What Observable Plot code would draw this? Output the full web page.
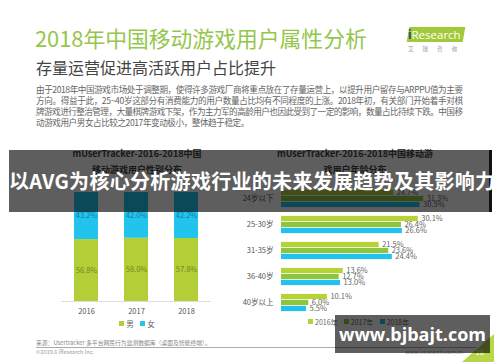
<!DOCTYPE html>
<html><head><meta charset="utf-8">
<script src="https://cdn.jsdelivr.net/npm/d3@7"></script>
<script src="https://cdn.jsdelivr.net/npm/@observablehq/plot@0.6"></script>
<style>
html,body{margin:0;padding:0;background:#fff;}
#page{position:relative;width:500px;height:362px;overflow:hidden;background:#fff;font-family:"Noto Sans CJK SC","Noto Sans",sans-serif;}
.abs{position:absolute;white-space:nowrap;line-height:1;}
.sq{display:inline-block;width:5px;height:5px;margin-right:2px;vertical-align:1px;}
.pl{display:block;white-space:nowrap;}
</style></head>
<body>
<div id="page">
  <div class="abs" style="left:35px;top:27px;font-size:21.8px;color:#95c64c;">2018年中国移动游戏用户属性分析</div>
  <div class="abs" style="left:36px;top:59px;font-size:16px;color:#444;">存量运营促进高活跃用户占比提升</div>
  <div class="abs" style="left:408px;top:27px;width:56px;height:15px;background:#a3c93a;transform:skewX(-10deg);"></div>
  <div class="abs" style="left:408px;top:29px;font-size:11.5px;color:#fff;font-family:'Open Sans',sans-serif;"><span style="color:#1b4f6b;font-weight:bold">i</span>Research</div>
  <div class="abs" style="left:408px;top:47px;font-size:5.5px;color:#999;letter-spacing:9px;">艾瑞咨询</div>
  <div id="para" class="abs" style="left:36px;top:83.5px;font-size:8.6px;line-height:11.3px;color:#666;"></div>

  <div id="leftTitle" class="abs" style="left:37px;width:200px;top:146px;text-align:center;font-size:9px;font-weight:bold;color:#444;line-height:16px;white-space:normal;"></div>
  <div id="rightTitle" class="abs" style="left:255px;width:200px;top:146px;text-align:center;font-size:9px;font-weight:bold;color:#444;line-height:16px;white-space:normal;"></div>

  <div id="left" class="abs" style="left:0px;top:180px;"></div>
  <div id="right" class="abs" style="left:230px;top:170px;"></div>

  <div id="legL" class="abs" style="left:0;width:274px;top:320px;text-align:center;font-size:7.5px;color:#666;"></div>
  <div id="legR" class="abs" style="left:308px;top:319px;font-size:7px;color:#666;"></div>

  <div class="abs" style="left:36px;top:339.5px;font-size:5.8px;color:#888;">来源：Usertracker 多平台网民行为监测数据库（桌面及智能终端）。</div>
  <div class="abs" style="left:36px;top:346.5px;width:440px;height:0;border-top:1px solid #aaa;"></div>
  <div class="abs" style="left:36px;top:350px;font-size:5.5px;color:#999;">©2019.6 iResearch Inc.</div>
  <div class="abs" style="left:405px;top:350px;font-size:5.5px;color:#999;">www.iresearch.com.cn</div>
  <svg class="abs" style="left:0;top:0" width="500" height="362"><polygon points="462,362 494,334 494,362" fill="#b7d64a"/></svg>
  <div class="abs" style="left:476px;top:349px;font-size:7px;color:#fff;">26</div>

  <div class="abs" style="left:9px;top:150px;width:480px;height:62px;background:rgba(0,0,0,0.63);border-right:3px solid #111;"></div>
  <div class="abs" style="left:9px;top:150px;width:483px;height:62px;line-height:62px;text-align:center;font-size:20px;letter-spacing:0.3px;font-weight:bold;color:#fff;">以AVG为核心分析游戏行业的未来发展趋势及其影响力</div>

  <div class="abs" style="left:335px;top:315px;width:155px;height:38px;background:rgba(0,0,0,0.63);"></div>
  <div class="abs" style="left:335px;top:315px;width:155px;height:38px;line-height:38px;text-align:center;font-size:18px;font-weight:bold;color:#fff;font-family:'Open Sans',sans-serif;">www.bjbajt.com</div>
</div>
<script>
// ---- data ----
const paragraphLines = [
  "由于2018年中国游戏市场处于调整期，使得许多游戏厂商将重点放在了存量运营上，以提升用户留存与ARPPU值为主要",
  "方向。得益于此，25~40岁这部分有消费能力的用户数量占比均有不同程度的上涨。2018年初，有关部门开始着手对棋",
  "牌游戏进行整治管理，大量棋牌游戏下架，作为主力军的高龄用户也因此受到了一定的影响，数量占比持续下跌。中国移",
  "动游戏用户男女占比较之2017年变动极小，整体趋于稳定。"
];
const leftTitle = ["mUserTracker-2016-2018中国", "移动游戏用户性别分布"];
const rightTitle = ["mUserTracker-2016-2018中国移动游", "戏用户年龄分布"];

const years = ["2016", "2017", "2018"];
const sexes = ["男", "女"];
const male = [56.8, 58.0, 57.8];
const female = [43.2, 42.0, 42.2];

const ageGroups = ["24岁以下", "25-30岁", "31-35岁", "36-40岁", "40岁以上"];
const ageYears = ["2016年", "2017年", "2018年"];
const age2016 = [24.7, 30.1, 21.5, 13.6, 10.1];
const age2017 = [31.3, 26.4, 23.6, 12.7, 6.0];
const age2018 = [30.5, 26.6, 24.4, 13.0, 5.5];

const sexColors = ["#b2cf37", "#22c4ee"];
const ageColors = ["#b5d336", "#8cc63f", "#21c3ee"];

// ---- text ----
const para = document.getElementById("para");
const paraWidth = 427;
paragraphLines.forEach((t, i) => {
  const s = document.createElement("span");
  s.className = "pl";
  s.textContent = t;
  para.appendChild(s);
});
let spacings = [];
[...para.children].forEach((s, i) => {
  const r = document.createRange(); r.selectNodeContents(s);
  const w = r.getBoundingClientRect().width;
  const n = s.textContent.length;
  if (i < paragraphLines.length - 1) { const ls = (paraWidth - w) / (n - 1); spacings.push(ls); s.style.letterSpacing = ls + "px"; }
});
const avgLs = spacings.reduce((a, b) => a + b, 0) / spacings.length;
para.lastChild.style.letterSpacing = avgLs + "px";

document.getElementById("leftTitle").innerHTML = leftTitle.join("<br>");
document.getElementById("rightTitle").innerHTML = rightTitle.join("<br>");
document.getElementById("legL").innerHTML = sexes.map((s,i)=>`<span class="sq" style="background:${sexColors[i]}"></span>${s}`).join("&nbsp;&nbsp;&nbsp;&nbsp;");
document.getElementById("legR").innerHTML = ageYears.map((s,i)=>`<span class="sq" style="background:${ageColors[i]}"></span>${s}`).join("&nbsp;&nbsp;&nbsp;&nbsp;");

const font = '"Noto Sans CJK SC","Noto Sans",sans-serif';

// ---- left chart ----
const sexData = years.flatMap((y, i) => [
  {year: y, sex: "男", value: male[i]},
  {year: y, sex: "女", value: female[i]}
]);
const left = Plot.plot({
  width: 250, height: 140,
  marginLeft: 61, marginRight: 39, marginTop: 12, marginBottom: 19,
  x: {domain: years, paddingInner: 0.52, paddingOuter: 0.26, round: false},
  y: {domain: [0, 100], axis: null},
  color: {domain: sexes, range: sexColors},
  style: {fontFamily: font, background: "transparent", color: "#555"},
  marks: [
    Plot.barY(sexData, {x: "year", y: "value", fill: "sex"}),
    Plot.text(sexData, Plot.stackY({x: "year", y: "value", text: d => d.value.toFixed(1) + "%", fill: "#000", fillOpacity: 0.42, fontSize: 7.5})),
    Plot.ruleY([0], {stroke: "#ddd"}),
    Plot.axisX({tickSize: 0, tickPadding: 7, fontSize: 7.5, label: null})
  ]
});
document.getElementById("left").appendChild(left);

// ---- right chart ----
const ageData = ageGroups.flatMap((a, i) => [
  {age: a, year: ageYears[0], value: age2016[i]},
  {age: a, year: ageYears[1], value: age2017[i]},
  {age: a, year: ageYears[2], value: age2018[i]}
]);
const right = Plot.plot({
  width: 250, height: 160,
  marginLeft: 51, marginRight: 40, marginTop: 16.5, marginBottom: 17.5,
  x: {domain: [0, 35], axis: null},
  y: {domain: ageYears, axis: null, padding: 0},
  fy: {domain: ageGroups, padding: 0.245, label: null},
  color: {domain: ageYears, range: ageColors},
  style: {fontFamily: font, background: "transparent", color: "#555"},
  marks: [
    Plot.barX(ageData, {fy: "age", y: "year", x: "value", fill: "year", insetTop: 0.4, insetBottom: 0.4}),
    Plot.text(ageData, {fy: "age", y: "year", x: "value", text: d => d.value.toFixed(1) + "%", textAnchor: "start", dx: 3, fill: "#666", fontSize: 7.5}),
    Plot.axisFy({anchor: "left", tickSize: 0, tickPadding: 8, fontSize: 7.5, label: null})
  ]
});
document.getElementById("right").appendChild(right);
</script>
</body></html>
